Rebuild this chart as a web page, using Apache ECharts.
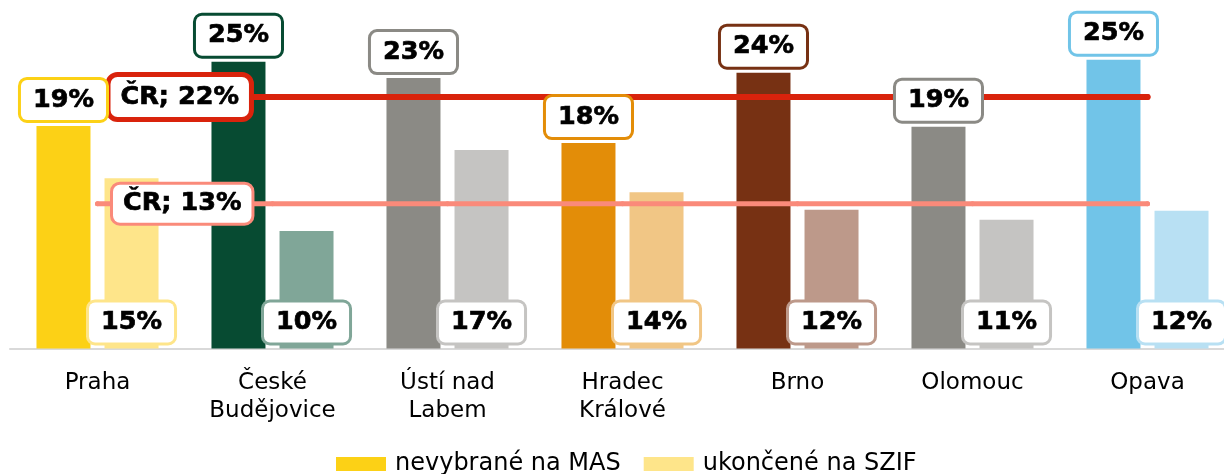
<!DOCTYPE html>
<html>
<head>
<meta charset="utf-8">
<script src="https://cdn.jsdelivr.net/npm/echarts@6/dist/echarts.min.js"></script>
<style>
  html, body { margin: 0; padding: 0; background: #fff; }
  #chart { width: 1224px; height: 474px; }
</style>
</head>
<body>
<div id="chart"></div>
<script>
// --- data ---
const regions = ['Praha', 'České\nBudějovice', 'Ústí nad\nLabem', 'Hradec\nKrálové', 'Brno', 'Olomouc', 'Opava']
const masValues = [19.3, 24.87, 23.45, 17.82, 23.92, 19.24, 25.05]   // nevybrané na MAS
const szifValues = [14.76, 10.19, 17.22, 13.55, 12.04, 11.17, 11.95] // ukončené na SZIF
const crMas = 21.81
const crSzif = 12.56

// --- colours per region ---
const masColors = ['#FCD116', '#074B32', '#8B8A85', '#E38D08', '#773113', '#8B8A85', '#71C4E8']
const szifColors = ['#FEE58A', '#80A698', '#C5C4C2', '#F1C685', '#BD998A', '#C5C4C2', '#B8E0F3']
const crMasColor = '#D9230C'
const crSzifColor = '#FA8A7A'

const FONT = 'DejaVu Sans'

// heavy boxed text used by all value labels
const heavyText = {
  color: '#000',
  fontFamily: FONT,
  fontWeight: 'bold',
  fontSize: 25.5,
  lineHeight: 30,
  textBorderColor: '#000',
  textBorderWidth: 0.7,
  backgroundColor: '#fff',
}

const boxLabel = {
  ...heavyText,
  show: true,
  borderWidth: 3,
  borderRadius: 6,
  padding: [5, 12],
  formatter: (p) => Math.round(p.value) + '%',
}

// coloured bars (no labels, drawn under the lines)
const barData = (values, colors) =>
  values.map((v, i) => ({ value: v, itemStyle: { color: colors[i] } }))

// invisible twin bars that carry the boxed labels above the lines
const labelData = (values, colors) =>
  values.map((v, i) => ({ value: v, label: { borderColor: colors[i] } }))

// reference line, label only on the first point
const crLine = (val, color, border, pad, dist) =>
  regions.map((_, i) =>
    i === 0
      ? {
          value: val,
          label: {
            ...heavyText,
            show: true,
            position: 'right',
            distance: dist,
            borderColor: color,
            borderWidth: border,
            borderRadius: 7,
            padding: pad,
            formatter: () => 'ČR; ' + Math.round(val) + '%',
          },
        }
      : val,
  )

const chart = echarts.init(document.getElementById('chart'))

const catAxis = (show) => ({
  type: 'category',
  data: regions,
  show: show,
  axisLine: { lineStyle: { color: '#D9D9D9', width: 2 } },
  axisTick: { show: false },
  axisLabel: {
    color: '#000',
    fontFamily: FONT,
    fontSize: 23,
    lineHeight: 28,
    margin: 21,
    interval: 0,
  },
})

chart.setOption({
  animation: false,
  grid: { left: 10, width: 1225, top: 2.6, bottom: 125.5, outerBoundsMode: 'none' },
  legend: {
    left: 331,
    top: 447,
    icon: 'rect',
    itemWidth: 50,
    itemHeight: 14,
    itemGap: 23,
    textStyle: { fontFamily: FONT, fontSize: 24, color: '#000', padding: [0, 0, 0, 4] },
    data: ['nevybrané na MAS', 'ukončené na SZIF'],
  },
  xAxis: [catAxis(true), catAxis(false)],
  yAxis: {
    type: 'value',
    min: 0,
    max: 30,
    show: false,
    splitLine: { show: false },
  },
  series: [
    {
      name: 'nevybrané na MAS',
      type: 'bar',
      z: 1,
      color: masColors[0],
      barWidth: 54,
      barGap: '26%',
      data: barData(masValues, masColors),
    },
    {
      name: 'ukončené na SZIF',
      type: 'bar',
      z: 1,
      color: szifColors[0],
      barWidth: 54,
      data: barData(szifValues, szifColors),
    },
    {
      name: 'ČR MAS',
      type: 'line',
      z: 2,
      data: crLine(crMas, crMasColor, 5, [5, 10], 10),
      symbol: 'circle',
      symbolSize: 6,
      itemStyle: { color: crMasColor },
      lineStyle: { color: crMasColor, width: 6, cap: 'round' },
      silent: true,
    },
    {
      name: 'ČR SZIF',
      type: 'line',
      z: 2,
      data: crLine(crSzif, crSzifColor, 3, [4, 10], 13),
      symbol: 'circle',
      symbolSize: 5,
      itemStyle: { color: crSzifColor },
      lineStyle: { color: crSzifColor, width: 5, cap: 'round' },
      silent: true,
    },
    {
      name: 'MAS labels',
      type: 'bar',
      xAxisIndex: 1,
      z: 3,
      barWidth: 54,
      barGap: '26%',
      itemStyle: { color: 'rgba(0,0,0,0)' },
      data: labelData(masValues, masColors),
      label: { ...boxLabel, position: 'top', distance: 6 },
      silent: true,
    },
    {
      name: 'SZIF labels',
      type: 'bar',
      xAxisIndex: 1,
      z: 3,
      barWidth: 54,
      itemStyle: { color: 'rgba(0,0,0,0)' },
      data: labelData(szifValues, szifColors),
      label: { ...boxLabel, position: 'insideBottom', distance: 6 },
      silent: true,
    },
  ],
})
</script>
</body>
</html>
